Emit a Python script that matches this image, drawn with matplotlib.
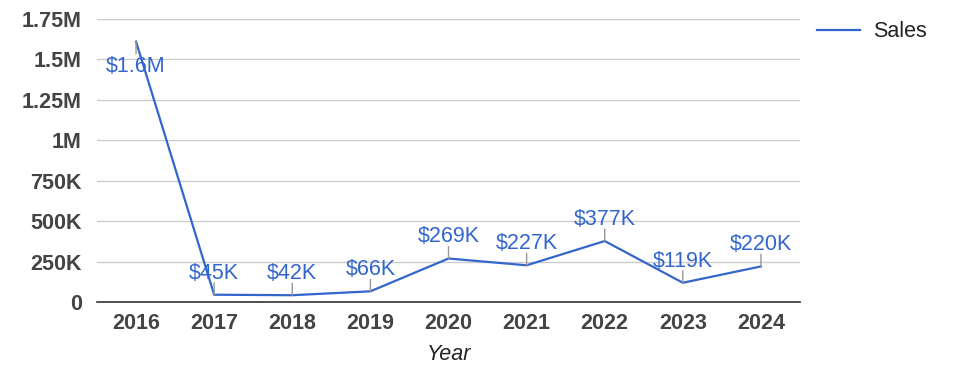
import matplotlib
matplotlib.use("Agg")
import matplotlib.pyplot as plt

years = ["2016", "2017", "2018", "2019", "2020", "2021", "2022", "2023", "2024"]
sales = [1610000, 45000, 42000, 66000, 269000, 227000, 377000, 119000, 220000]
labels = ["$1.6M", "$45K", "$42K", "$66K", "$269K", "$227K", "$377K", "$119K", "$220K"]
yticks = [0, 250000, 500000, 750000, 1000000, 1250000, 1500000, 1750000]
ytick_labels = ["0", "250K", "500K", "750K", "1M", "1.25M", "1.5M", "1.75M"]

plt.rcParams['font.family'] = ['Liberation Sans', 'DejaVu Sans']
BLUE = '#3366CC'

fig = plt.figure(figsize=(9.75, 3.78), dpi=100)
ax = fig.add_axes([97/975, 1 - 302/378, 703/975, 283/378])

x = list(range(len(years)))
line, = ax.plot(x, sales, color=BLUE, lw=1.6, label='Sales', zorder=3)

ax.set_xlim(-0.5, len(years) - 0.5)
ax.set_ylim(0, 1750000)
ax.set_yticks(yticks)
ax.set_yticklabels(ytick_labels)
ax.set_xticks(x)
ax.set_xticklabels(years)
for t in ax.get_xticklabels() + ax.get_yticklabels():
    t.set_fontweight('bold')
    t.set_fontsize(15.5)
    t.set_color('#444444')
ax.tick_params(axis='both', length=0)
ax.tick_params(axis='x', pad=8)
ax.tick_params(axis='y', pad=11)
ax.grid(axis='y', color='#cccccc', lw=1)
ax.set_axisbelow(True)
for s in ['top', 'right', 'left']:
    ax.spines[s].set_visible(False)
ax.spines['bottom'].set_color('#333333')
ax.spines['bottom'].set_linewidth(1.2)

ax.set_xlabel('Year', fontsize=15.5, style='italic', color='#222222', labelpad=7)

for i, (v, lab) in enumerate(zip(sales, labels)):
    if i == 0:
        ax.annotate('', xy=(i, v), xytext=(0, -12), textcoords='offset pixels',
                    arrowprops=dict(arrowstyle='-', color='#999999', lw=1, shrinkA=0, shrinkB=0))
        ax.annotate(lab, xy=(i, v), xytext=(0, -14), textcoords='offset pixels',
                    ha='center', va='top', fontsize=15.5, color=BLUE, zorder=4)
    else:
        ax.annotate('', xy=(i, v), xytext=(0, 12), textcoords='offset pixels',
                    arrowprops=dict(arrowstyle='-', color='#999999', lw=1, shrinkA=0, shrinkB=0))
        ax.annotate(lab, xy=(i, v), xytext=(0, 16), textcoords='offset pixels',
                    ha='center', va='baseline', fontsize=15.5, color=BLUE, zorder=4)

leg = fig.legend(handles=[line], loc='upper left', bbox_to_anchor=(798/975, 1 - 2/378),
                 frameon=False, fontsize=15.5, handlelength=2.0, handletextpad=0.6)
for t in leg.get_texts():
    t.set_color('#222222')

fig.savefig('out.png', dpi=100)
